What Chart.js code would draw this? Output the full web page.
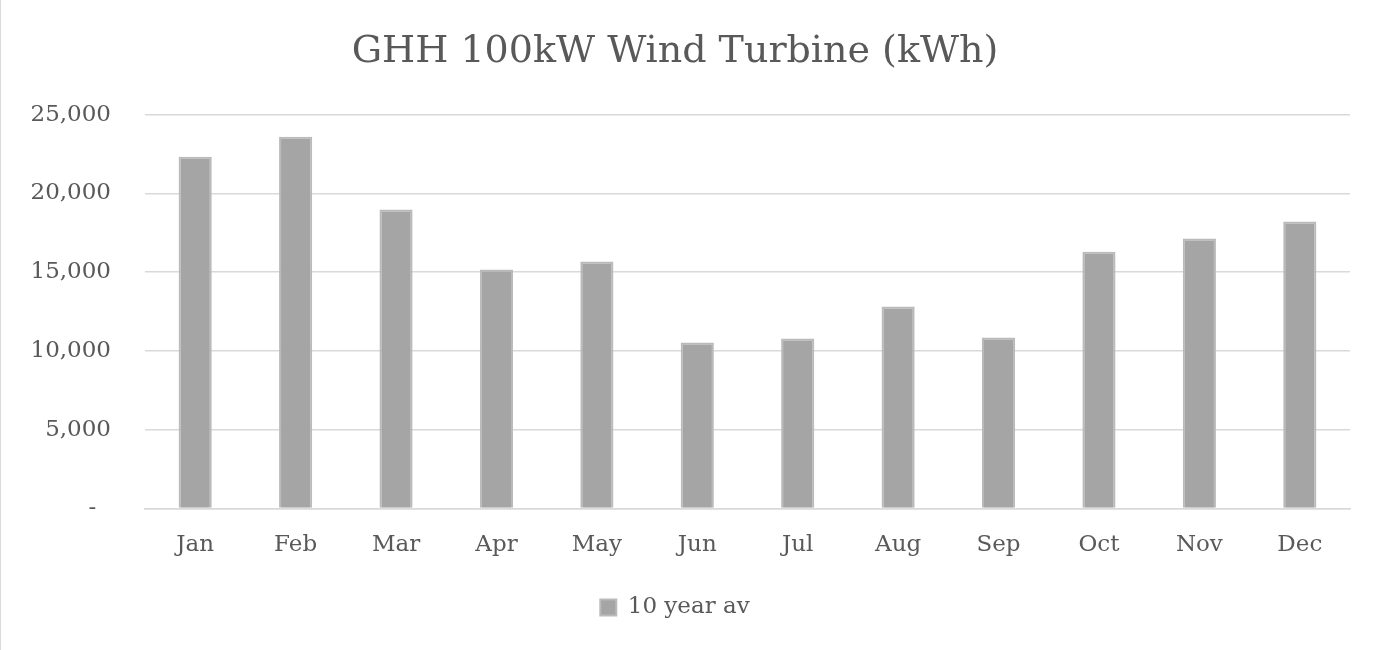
<!DOCTYPE html>
<html>
<head>
<meta charset="utf-8">
<script src="https://cdn.jsdelivr.net/npm/chart.js@4/dist/chart.umd.min.js"></script>
<style>
  html,body{margin:0;padding:0;background:#fff;}
  #wrap{width:1383px;height:650px;position:relative;}
  #wrap:before{content:"";position:absolute;left:0;top:0;bottom:0;width:1px;background:#d9d9d9;}
</style>
</head>
<body>
<div id="wrap"><canvas id="c" width="1383" height="650"></canvas></div>
<script>
// data
const months = ["Jan","Feb","Mar","Apr","May","Jun","Jul","Aug","Sep","Oct","Nov","Dec"];
const tenYearAv = [22330,23600,18970,15170,15670,10530,10790,12820,10850,16300,17130,18210];
const seriesName = "10 year av";
const titleText = "GHH 100kW Wind Turbine (kWh)";

const txt = "#595959";
const font = "'DejaVu Serif', serif";

new Chart(document.getElementById("c"), {
  type: "bar",
  data: {
    labels: months,
    datasets: [{
      label: seriesName,
      data: tenYearAv,
      backgroundColor: "#a5a5a5",
      borderColor: "#bababa",
      borderWidth: 2,
      barPercentage: 0.66,
      categoryPercentage: 0.5
    }]
  },
  options: {
    responsive: false,
    animation: false,
    layout: { padding: { left: 0, right: 33, top: 29, bottom: 21 } },
    plugins: {
      title: {
        display: true, text: titleText, color: txt,
        font: { family: font, size: 38, weight: "normal" },
        padding: { top: 0, bottom: 40 }
      },
      legend: {
        position: "bottom",
        labels: {
          color: txt, font: { family: font, size: 23 },
          boxWidth: 16, boxHeight: 16, padding: 14
        }
      },
      tooltip: { enabled: false }
    },
    scales: {
      x: {
        grid: { display: false, drawTicks: false },
        border: { color: "#d9d9d9", width: 1.5 },
        ticks: { color: txt, font: { family: font, size: 23 }, padding: 23 }
      },
      y: {
        min: 0, max: 25000,
        afterFit: s => { s.width = 145; },
        grid: { color: "#d9d9d9", lineWidth: 1.5, drawTicks: false },
        border: { display: false },
        ticks: {
          stepSize: 5000, color: txt, padding: 34,
          font: { family: font, size: 23 },
          callback: v => v === 0 ? "-  " : v.toLocaleString("en-US")
        }
      }
    }
  }
});
</script>
</body>
</html>
